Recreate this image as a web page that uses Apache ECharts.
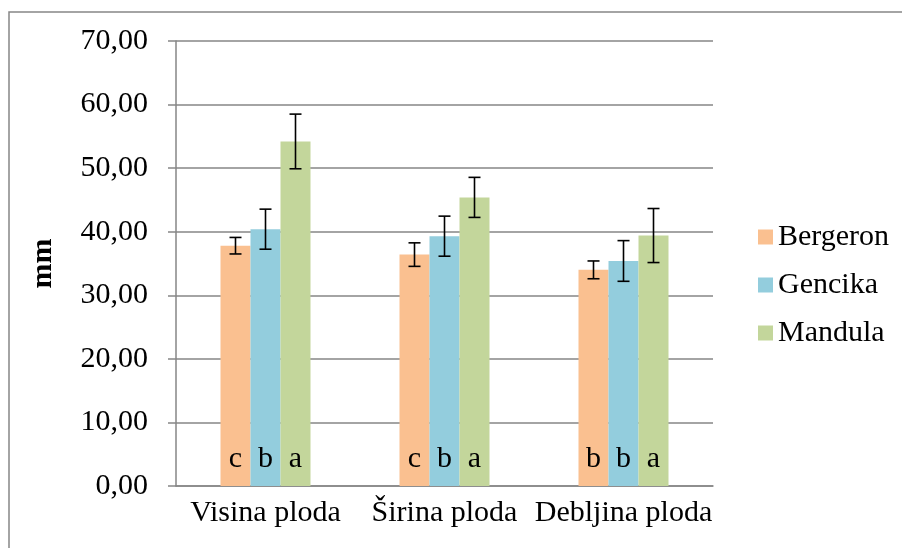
<!DOCTYPE html>
<html>
<head>
<meta charset="utf-8">
<script src="https://cdn.jsdelivr.net/npm/echarts@6/dist/echarts.min.js"></script>
<style>
html,body{margin:0;padding:0;background:#fff;}
#chart{width:902px;height:548px;}
</style>
</head>
<body>
<div id="chart"></div>
<script>
var categories = ['Visina ploda', 'Širina ploda', 'Debljina ploda'];
var seriesNames = ['Bergeron', 'Gencika', 'Mandula'];
var bergeron = [37.8, 36.4, 34.0];
var gencika = [40.4, 39.3, 35.4];
var mandula = [54.2, 45.4, 39.4];
var bergeronErr = [1.3, 1.85, 1.4];
var gencikaErr = [3.15, 3.15, 3.2];
var mandulaErr = [4.3, 3.15, 4.25];
var bergeronLetters = ['c', 'c', 'b'];
var gencikaLetters = ['b', 'b', 'b'];
var mandulaLetters = ['a', 'a', 'a'];
var yTicks = [0, 10, 20, 30, 40, 50, 60, 70];

var colors = ['#FAC090', '#93CDDD', '#C3D69B'];
var values = [bergeron, gencika, mandula];
var errs = [bergeronErr, gencikaErr, mandulaErr];
var letters = [bergeronLetters, gencikaLetters, mandulaLetters];
var FONT = '"Liberation Serif", "Times New Roman", serif';
var BAR_W = 30;

var chart = echarts.init(document.getElementById('chart'));

var series = [];
seriesNames.forEach(function (name, i) {
  series.push({
    name: name,
    type: 'bar',
    barWidth: BAR_W,
    barGap: '0%',
    itemStyle: { color: colors[i] },
    label: {
      show: true,
      position: 'insideBottom',
      distance: 12,
      fontFamily: FONT,
      fontSize: 30,
      color: '#000',
      formatter: function (p) { return letters[i][p.dataIndex]; }
    },
    data: values[i]
  });
});

seriesNames.forEach(function (name, i) {
  var d = values[i].map(function (v, k) { return [k, v, errs[i][k]]; });
  series.push({
    type: 'custom',
    name: name + ' err',
    z: 10,
    silent: true,
    renderItem: function (params, api) {
      var cat = api.value(0), m = api.value(1), e = api.value(2);
      var top = api.coord([cat, m + e]);
      var bot = api.coord([cat, m - e]);
      var x = top[0] + (i - 1) * BAR_W;
      var cw = 6;
      var st = { stroke: '#000', lineWidth: 1.6 };
      return {
        type: 'group',
        children: [
          { type: 'line', shape: { x1: x, y1: top[1], x2: x, y2: bot[1] }, style: st },
          { type: 'line', shape: { x1: x - cw, y1: top[1], x2: x + cw, y2: top[1] }, style: st },
          { type: 'line', shape: { x1: x - cw, y1: bot[1], x2: x + cw, y2: bot[1] }, style: st }
        ]
      };
    },
    data: d
  });
});

chart.setOption({
  backgroundColor: '#fff',
  animation: false,
  graphic: [{
    type: 'rect',
    shape: { x: 9, y: 12, width: 1000, height: 1000 },
    style: { fill: 'none', stroke: '#868686', lineWidth: 1.5 },
    silent: true
  }],
  grid: { left: 176, right: 189, top: 41, bottom: 62 },
  legend: {
    data: seriesNames,
    orient: 'vertical',
    left: 753,
    top: 216,
    icon: 'rect',
    itemWidth: 15,
    itemHeight: 15,
    itemGap: 16,
    textStyle: { fontFamily: FONT, fontSize: 30, color: '#000', lineHeight: 32 }
  },
  xAxis: {
    type: 'category',
    data: categories,
    axisLine: { lineStyle: { color: '#868686', width: 1.5 } },
    axisTick: { show: false },
    axisLabel: { fontFamily: FONT, fontSize: 30, color: '#000', margin: 12, interval: 0 }
  },
  yAxis: {
    type: 'value',
    min: yTicks[0],
    max: yTicks[yTicks.length - 1],
    interval: 10,
    name: 'mm',
    nameLocation: 'middle',
    nameGap: 118,
    nameRotate: 90,
    nameTextStyle: { fontFamily: FONT, fontSize: 30, fontWeight: 'bold', color: '#000' },
    axisLine: { show: true, lineStyle: { color: '#868686', width: 1.5 } },
    axisTick: { show: true, length: 8, lineStyle: { color: '#868686', width: 1.5 } },
    splitLine: { lineStyle: { color: '#868686', width: 1.5 } },
    axisLabel: {
      fontFamily: FONT, fontSize: 30, color: '#000', margin: 28,
      formatter: function (v) { return v.toFixed(2).replace('.', ','); }
    }
  },
  series: series
});
</script>
</body>
</html>
